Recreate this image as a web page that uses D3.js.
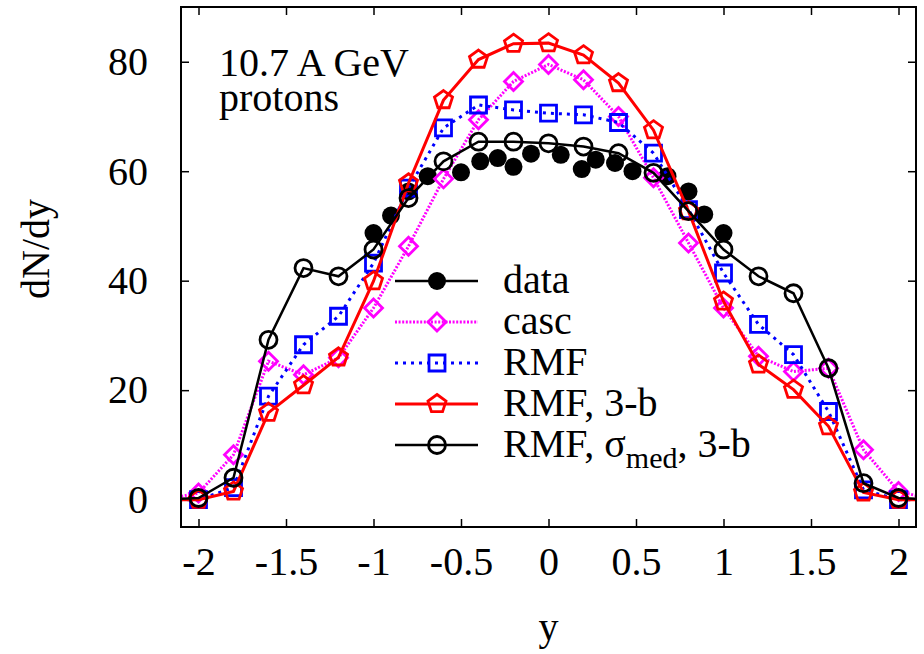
<!DOCTYPE html>
<html>
<head>
<meta charset="utf-8">
<script src="https://cdn.jsdelivr.net/npm/d3@7"></script>
</head>
<body style="margin:0">
<svg id="chart" width="924" height="654" font-family="Liberation Serif"></svg>
<script>
// rapidity grid of the model curves (the outer points sit outside the frame)
const yModel = [-2.2, -2, -1.8, -1.6, -1.4, -1.2, -1, -0.8, -0.6, -0.4, -0.2, 0,
                0.2, 0.4, 0.6, 0.8, 1, 1.2, 1.4, 1.6, 1.8, 2, 2.2];
const casc    = [0, 1.2, 8.2, 25.3, 22.8, 25.9, 35, 46.3, 58.6, 69.4, 76.4, 79.5,
                 76.7, 70, 58.8, 46.9, 35, 26.2, 23.4, 24, 9.1, 1.5, 0];
const rmf     = [0, 0, 2.2, 18.9, 28.3, 33.5, 43.2, 56.9, 67.9, 72.1, 71.2, 70.6,
                 70.3, 68.9, 63.3, 53, 41.4, 32, 26.5, 16.1, 1.8, 0, 0];
const rmf3b   = [0, 0, 1.5, 15.9, 20.9, 26, 39.9, 57.8, 73, 80.4, 83.3, 83.4,
                 81.2, 76.1, 67.5, 52.7, 36.2, 24.7, 20.1, 13.4, 1.3, 0, 0];
const rmfSig  = [0, 0.3, 4, 29.2, 42.3, 40.8, 45.7, 55.1, 61.8, 65.4, 65.4, 65.1,
                 64.5, 63.3, 59.7, 52.7, 45.7, 40.8, 37.7, 24, 3, 0.3, 0];

// measured points
const dataY  = [-1.0, -0.9, -0.8, -0.69, -0.5, -0.39, -0.29, -0.2, -0.1,
                0.07, 0.19, 0.27, 0.38, 0.48, 0.68, 0.8, 0.89, 1.0];
const dataDN = [48.7, 51.9, 56.3, 59.1, 59.8, 61.8, 62.4, 60.8, 63.2,
                63, 60.4, 62.1, 61.5, 60, 59.1, 56.3, 52.1, 48.7];

const xTicks = [-2, -1.5, -1, -0.5, 0, 0.5, 1, 1.5, 2];
const yTicks = [0, 20, 40, 60, 80];

const FONT = "Liberation Serif";
const FS = 40;

const svg = d3.select("#chart");
const mLeft = 181, mRight = 916, mTop = 7, mBottom = 527;

const x = d3.scaleLinear().domain([-2.1, 2.1]).range([mLeft, mRight]);
const y = d3.scaleLinear().domain([-5, 90]).range([mBottom, mTop]);

svg.append("defs").append("clipPath").attr("id", "clip")
  .append("rect")
  .attr("x", mLeft).attr("y", mTop)
  .attr("width", mRight - mLeft).attr("height", mBottom - mTop);

// axes, ticks pointing inward on all four sides
function styleAxis(g) {
  g.attr("font-family", FONT).attr("font-size", FS);
  g.select(".domain").remove();
  g.selectAll(".tick line").attr("stroke", "#000").attr("stroke-width", 1.5);
  g.selectAll(".tick text").attr("fill", "#000")
    .attr("font-family", FONT).attr("font-size", FS);
}
const fmt = d => String(d);

svg.append("g").attr("transform", `translate(0,${mBottom})`)
  .call(d3.axisBottom(x).tickValues(xTicks).tickSize(-8).tickPadding(20).tickFormat(fmt))
  .call(styleAxis);
svg.append("g").attr("transform", `translate(0,${mTop})`)
  .call(d3.axisTop(x).tickValues(xTicks).tickSize(-8).tickFormat(""))
  .call(styleAxis);
svg.append("g").attr("transform", `translate(${mLeft},0)`)
  .call(d3.axisLeft(y).tickValues(yTicks).tickSize(-8).tickPadding(33).tickFormat(fmt))
  .call(styleAxis);
svg.append("g").attr("transform", `translate(${mRight},0)`)
  .call(d3.axisRight(y).tickValues(yTicks).tickSize(-8).tickFormat(""))
  .call(styleAxis);

function label(sel) {
  return sel.append("text").attr("font-family", FONT).attr("font-size", FS);
}

// axis titles
label(svg).attr("x", (mLeft + mRight) / 2).attr("y", 640)
  .attr("text-anchor", "middle").text("y");
label(svg).attr("transform", "translate(49,249) rotate(-90)")
  .attr("text-anchor", "middle").text("dN/dy");

// annotation
label(svg).attr("x", 219).attr("y", 76).text("10.7 A GeV");
label(svg).attr("x", 219).attr("y", 111).text("protons");

// marker shapes
function pentagon(r) {
  const pts = [];
  for (let i = 0; i < 5; i++) {
    const a = -Math.PI / 2 + i * 2 * Math.PI / 5;
    pts.push([r * Math.cos(a), r * Math.sin(a)]);
  }
  return "M" + pts.map(p => p.join(",")).join("L") + "Z";
}
const shapes = {
  dot: "M-9,0A9,9 0 1,0 9,0A9,9 0 1,0 -9,0Z",
  circle: "M-8.5,0A8.5,8.5 0 1,0 8.5,0A8.5,8.5 0 1,0 -8.5,0Z",
  square: "M-8,-8L8,-8L8,8L-8,8Z",
  diamond: "M0,-9L9,0L0,9L-9,0Z",
  pentagon: pentagon(9.5)
};

const series = [
  { name: "casc", vals: casc, color: "#ff00ff", dash: "2,1.6", width: 3, shape: "diamond" },
  { name: "RMF", vals: rmf, color: "#0000ff", dash: "3,5", width: 3, shape: "square" },
  { name: "RMF3b", vals: rmf3b, color: "#ff0000", dash: null, width: 3, shape: "pentagon" },
  { name: "RMFsig", vals: rmfSig, color: "#000000", dash: null, width: 2.5, shape: "circle" }
];

const plot = svg.append("g").attr("clip-path", "url(#clip)");

// measured data first
plot.selectAll(".datapt")
  .data(dataY.map((v, i) => [v, dataDN[i]]))
  .enter().append("path")
  .attr("class", "datapt")
  .attr("d", shapes.dot)
  .attr("transform", d => `translate(${x(d[0])},${y(d[1])})`)
  .attr("fill", "#000");

const line = d3.line().x(d => x(d[0])).y(d => y(d[1]));

series.forEach(s => {
  const pts = yModel.map((v, i) => [v, s.vals[i]]);
  plot.append("path")
    .attr("d", line(pts))
    .attr("fill", "none")
    .attr("stroke", s.color)
    .attr("stroke-width", s.width)
    .attr("stroke-dasharray", s.dash);
  plot.selectAll(".m-" + s.name)
    .data(pts)
    .enter().append("path")
    .attr("class", "m-" + s.name)
    .attr("d", shapes[s.shape])
    .attr("transform", d => `translate(${x(d[0])},${y(d[1])})`)
    .attr("fill", "none")
    .attr("stroke", s.color)
    .attr("stroke-width", 2.8);
});

// frame
svg.append("rect")
  .attr("x", mLeft).attr("y", mTop)
  .attr("width", mRight - mLeft).attr("height", mBottom - mTop)
  .attr("fill", "none").attr("stroke", "#000").attr("stroke-width", 2);

// legend
const legendRows = [
  { label: "data", color: "#000", dash: null, width: 2.5, shape: "dot", filled: true },
  { label: "casc", color: "#ff00ff", dash: "2,1.6", width: 3, shape: "diamond" },
  { label: "RMF", color: "#0000ff", dash: "3,5", width: 3, shape: "square" },
  { label: "RMF, 3-b", color: "#ff0000", dash: null, width: 3, shape: "pentagon" },
  { label: "sigma", color: "#000", dash: null, width: 2.5, shape: "circle" }
];
const lx1 = 395, lx2 = 478, lxm = 437, ltx = 503, ly0 = 281, lstep = 41;

legendRows.forEach((r, i) => {
  const cy = ly0 + i * lstep;
  const g = svg.append("g");
  g.append("line")
    .attr("x1", lx1).attr("x2", lx2).attr("y1", cy).attr("y2", cy)
    .attr("stroke", r.color).attr("stroke-width", r.width)
    .attr("stroke-dasharray", r.dash);
  g.append("path")
    .attr("d", shapes[r.shape])
    .attr("transform", `translate(${lxm},${cy})`)
    .attr("fill", r.filled ? r.color : "none")
    .attr("stroke", r.filled ? "none" : r.color)
    .attr("stroke-width", 2.8);
  const t = label(g).attr("x", ltx).attr("y", cy + 12);
  if (r.label === "sigma") {
    t.append("tspan").text("RMF, σ");
    t.append("tspan").attr("dy", 11).attr("font-size", 30).text("med");
    t.append("tspan").attr("dy", -11).text(", 3-b");
  } else {
    t.text(r.label);
  }
});
</script>
</body>
</html>
